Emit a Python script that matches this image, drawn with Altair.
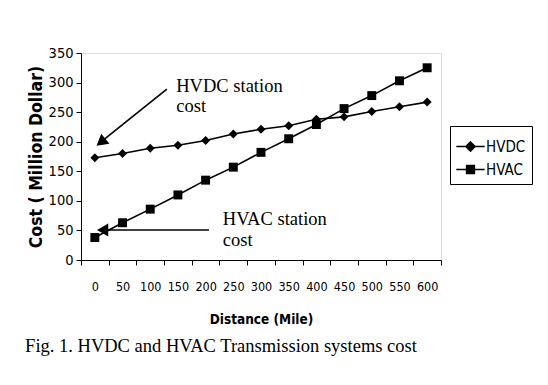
import altair as alt
import pandas as pd

distance = [0, 50, 100, 150, 200, 250, 300, 350, 400, 450, 500, 550, 600]
hvdc = [173, 180, 189, 194, 202, 213, 221, 227, 238, 242, 251, 259, 267]
hvac = [38, 63, 86, 110, 135, 157, 182, 205, 229, 256, 278, 303, 325]
series = ["HVDC", "HVAC"]

rows = []
for d, v in zip(distance, hvdc):
    rows.append({"Distance": d, "Cost": v, "Series": "HVDC"})
for d, v in zip(distance, hvac):
    rows.append({"Distance": d, "Cost": v, "Series": "HVAC"})
df = pd.DataFrame(rows)

# annotation data (in data units: x on a continuous -25..625 scale)
arrows = pd.DataFrame([
    {"ax": 130, "Cost": 289, "ax2": 10, "Cost2": 199},
    {"ax": 206, "Cost": 50.7, "ax2": 16, "Cost2": 50.7},
])
heads = pd.DataFrame([
    {"ax": 11, "Cost": 199, "ang": 231},
    {"ax": 14, "Cost": 50.7, "ang": 270},
])
labels_dc = pd.DataFrame([{"ax": 147, "Cost": 284, "t": "HVDC station\ncost"}])
labels_ac = pd.DataFrame([{"ax": 231, "Cost": 59.5, "t": "HVAC station\ncost"}])

SANS = "DejaVu Sans Condensed, Liberation Sans Narrow, sans-serif"
SERIF = "Liberation Serif, Times New Roman, serif"

xband = alt.X(
    "Distance:O",
    sort=distance,
    scale=alt.Scale(type="band", paddingInner=0, paddingOuter=0),
    axis=alt.Axis(
        title="Distance (Mile)", labelAngle=0, tickBand="extent",
        labelFont=SANS, labelFontSize=12.5, labelColor="black", labelPadding=15,
        titleFont=SANS, titleFontSize=13.5, titleFontWeight="bold", titleColor="black",
        titlePadding=20, tickColor="black", tickSize=5, domainColor="black",
    ),
)
yaxis = alt.Axis(
    title="Cost ( Million Dollar)", values=list(range(0, 351, 50)),
    labelFont=SANS, labelFontSize=14.5, labelColor="black", labelPadding=3,
    titleFont=SANS, titleFontSize=17.5, titleFontWeight="bold", titleColor="black",
    titlePadding=3, tickColor="black", tickSize=5, domainColor="black", grid=False,
)
yenc = alt.Y("Cost:Q", scale=alt.Scale(domain=[0, 350], nice=False), axis=yaxis)

base = alt.Chart(df)
lines = base.mark_line(color="black", strokeWidth=1.6).encode(
    x=xband, y=yenc, detail="Series:N"
)
points = base.mark_point(filled=True, color="black", opacity=1).encode(
    x=xband, y=yenc,
    shape=alt.Shape("Series:N", scale=alt.Scale(domain=series, range=["diamond", "square"]), legend=None),
    size=alt.value(80),
)
legend_paths = [
    "M-1.05,0H1.05"
    "M0,-0.34L0.34,0L0,0.34L-0.34,0Z"
    "M0,-0.23L0.23,0L0,0.23L-0.23,0Z"
    "M0,-0.12L0.12,0L0,0.12L-0.12,0Z",
    "M-1.05,0H1.05"
    "M-0.29,-0.29H0.29V0.29H-0.29Z"
    "M-0.18,-0.18H0.18V0.18H-0.18Z"
    "M-0.07,-0.07H0.07V0.07H-0.07Z",
]
legend_layer = base.mark_point(
    filled=False, color="black", strokeWidth=1.5, opacity=0
).encode(
    x=xband, y=yenc,
    shape=alt.Shape(
        "Series:N",
        scale=alt.Scale(domain=series, range=legend_paths),
        legend=alt.Legend(
            title=None, orient="none", legendX=369, legendY=73,
            strokeColor="black", padding=6, fillColor="white",
            symbolSize=729, symbolStrokeColor="black",
            symbolStrokeWidth=1.5, symbolOpacity=1,
            labelFont=SANS, labelFontSize=15, labelColor="black", labelOffset=1,
            rowPadding=0,
        ),
    ),
)
main = alt.layer(lines, points, legend_layer).resolve_scale(shape="independent")

ax = alt.X("ax:Q", scale=alt.Scale(domain=[-25, 625], nice=False, zero=False), axis=None)

arrow_lines = alt.Chart(arrows).mark_rule(color="black", strokeWidth=1.6).encode(
    x=ax, y=yenc, x2="ax2:Q", y2="Cost2:Q"
)
arrow_heads = alt.Chart(heads).mark_point(
    shape="triangle-up", filled=True, color="black", opacity=1, size=170
).encode(x=ax, y=yenc, angle=alt.Angle("ang:Q", scale=None))
text_dc = alt.Chart(labels_dc).mark_text(
    align="left", baseline="alphabetic", font=SERIF, fontSize=18.5, color="black",
    lineBreak="\n", lineHeight=20,
).encode(x=ax, y=yenc, text="t:N")
text_ac = alt.Chart(labels_ac).mark_text(
    align="left", baseline="alphabetic", font=SERIF, fontSize=18.5, color="black",
    lineBreak="\n", lineHeight=21,
).encode(x=ax, y=yenc, text="t:N")
ann = alt.layer(arrow_lines, arrow_heads, text_dc, text_ac)

chart = alt.layer(main, ann).resolve_scale(
    x="independent"
).properties(
    width=360, height=207,
    autosize=alt.AutoSizeParams(type="none"),
    padding={"left": 73, "top": 45, "right": 99, "bottom": 117},
    title=alt.TitleParams(
        "Fig. 1. HVDC and HVAC Transmission systems cost",
        orient="bottom", anchor="start", font=SERIF, fontSize=18.5,
        fontWeight="normal", color="black", offset=11, dx=-2,
    ),
).configure_view(stroke=None).configure(background="white")

chart.save("out.html", embed_options={"renderer": "svg", "actions": False})
